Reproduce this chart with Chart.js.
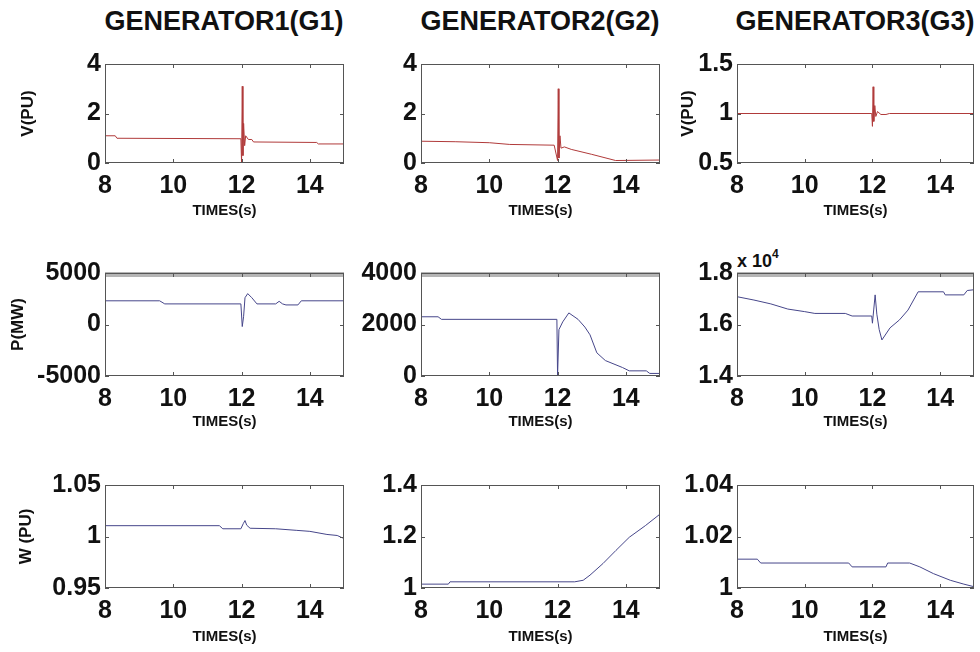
<!DOCTYPE html>
<html>
<head>
<meta charset="utf-8">
<script src="https://cdn.jsdelivr.net/npm/chart.js@4.4.0/dist/chart.umd.min.js"></script>
<style>
body { margin: 0; background: #fff; width: 980px; height: 652px; position: relative; overflow: hidden; font-family: "Liberation Sans", Arial, sans-serif; }
canvas { position: absolute; }
.title { position: absolute; top: 6px; width: 300px; text-align: center; font-weight: bold; font-size: 27px; color: #111; }
.expo { position: absolute; left: 737px; top: 249px; font-weight: bold; font-size: 18px; color: #111; }
.expo sup { font-size: 12px; position: relative; top: -2px; }
</style>
</head>
<body>
<div class="title" style="left:74px">GENERATOR1(G1)</div>
<div class="title" style="left:390px">GENERATOR2(G2)</div>
<div class="title" style="left:705px">GENERATOR3(G3)</div>
<div class="expo">x 10<sup>4</sup></div>

<canvas id="c0"></canvas><canvas id="c1"></canvas><canvas id="c2"></canvas>
<canvas id="c3"></canvas><canvas id="c4"></canvas><canvas id="c5"></canvas>
<canvas id="c6"></canvas><canvas id="c7"></canvas><canvas id="c8"></canvas>

<script>
// time axis, shared by all panels
const xTicks = [8, 10, 12, 14];
const xLabel = 'TIMES(s)';

// generator 1
const g1VoltT = [8, 8.3, 8.35, 11.98, 12.0, 12.02, 12.04, 12.06, 12.09, 12.12, 12.2, 12.3, 12.35, 14.2, 14.25, 15];
const g1Volt  = [1.1, 1.1, 1.0, 0.98, 0.0, 3.1, 0.3, 1.6, 0.7, 1.1, 0.95, 0.95, 0.85, 0.83, 0.77, 0.77];
const g1PowT  = [8, 9.6, 9.75, 11.98, 12.02, 12.06, 12.1, 12.18, 12.3, 12.45, 13.0, 13.1, 13.2, 13.3, 13.65, 13.75, 15];
const g1Pow   = [2300, 2300, 2000, 2000, -200, 800, 2600, 3000, 2600, 2000, 2000, 2250, 2000, 1900, 1900, 2300, 2300];
const g1SpdT  = [8, 11.35, 11.45, 11.98, 12.05, 12.1, 12.15, 12.25, 13.0, 13.6, 14.0, 14.5, 14.8, 15];
const g1Spd   = [1.0105, 1.0105, 1.0075, 1.0075, 1.0125, 1.0155, 1.011, 1.008, 1.0075, 1.006, 1.005, 1.002, 1.001, 0.998];

// generator 2
const g2VoltT = [8, 9.0, 10.0, 10.6, 11.9, 12.0, 12.02, 12.04, 12.07, 12.1, 12.2, 12.4, 13.0, 13.7, 15];
const g2Volt  = [0.88, 0.86, 0.82, 0.75, 0.72, 0.1, 3.0, 0.2, 1.1, 0.6, 0.65, 0.55, 0.35, 0.1, 0.12];
const g2PowT  = [8, 8.5, 8.6, 11.98, 12.0, 12.04, 12.15, 12.33, 12.6, 12.8, 12.95, 13.15, 13.4, 13.9, 14.1, 14.6, 14.7, 15];
const g2Pow   = [2300, 2300, 2200, 2200, 0, 1800, 2100, 2450, 2200, 1900, 1600, 900, 600, 330, 200, 200, 100, 100];
const g2SpdT  = [8, 8.8, 8.85, 12.5, 12.75, 12.95, 13.33, 13.71, 14.1, 14.57, 15];
const g2Spd   = [1.015, 1.015, 1.024, 1.024, 1.03, 1.05, 1.095, 1.146, 1.197, 1.242, 1.287];

// generator 3
const g3VoltT = [8, 11.98, 12.0, 12.02, 12.04, 12.07, 12.1, 12.15, 12.25, 12.4, 12.5, 15];
const g3Volt  = [1.0, 1.0, 0.87, 1.27, 0.92, 1.08, 0.97, 1.02, 0.99, 0.99, 1.0, 1.0];
const g3PowT  = [8, 8.5, 9, 9.5, 10, 10.3, 11.2, 11.4, 11.98, 12.0, 12.04, 12.08, 12.13, 12.2, 12.28, 12.52, 12.8, 13.05, 13.35, 14.1, 14.15, 14.7, 14.8, 15];
const g3Pow   = [17080, 16950, 16800, 16600, 16500, 16430, 16430, 16330, 16330, 16050, 16600, 17150, 16400, 15800, 15400, 15870, 16180, 16560, 17270, 17270, 17150, 17150, 17320, 17350];
const g3SpdT  = [8, 8.6, 8.7, 11.3, 11.4, 12.4, 12.45, 13.1, 13.4, 13.8, 14.3, 14.7, 15];
const g3Spd   = [1.0112, 1.0112, 1.0097, 1.0097, 1.0082, 1.0082, 1.0097, 1.0097, 1.0082, 1.0056, 1.003, 1.0015, 1.0005];

// y ticks per panel
const voltTicks12 = [0, 2, 4];
const voltTicks3  = [0.5, 1, 1.5];
const powTicks1   = [-5000, 0, 5000];
const powTicks2   = [0, 2000, 4000];
const powTicks3   = [14000, 16000, 18000];
const powLabels3  = ['1.4', '1.6', '1.8'];
const spdTicks1   = [0.95, 1, 1.05];
const spdTicks2   = [1, 1.2, 1.4];
const spdTicks3   = [1, 1.02, 1.04];

const cols = [
  { left: 0,   axisW: 105, width: 352, padR: 8 },
  { left: 355, axisW: 66,  width: 313, padR: 8 },
  { left: 665, axisW: 72,  width: 314, padR: 5 }
];
const rows = [
  { top: 45,  padT: 16, height: 177, axisH: 59 },
  { top: 240, padT: 33, height: 193, axisH: 57 },
  { top: 466, padT: 18, height: 182, axisH: 60 }
];

const RED = '#b03a3a';
const BLUE = '#46468a';

const panels = [
  { t: g1VoltT, v: g1Volt, ticks: voltTicks12, color: RED, ylab: 'V(PU)', ylabPad: 18 },
  { t: g2VoltT, v: g2Volt, ticks: voltTicks12, color: RED },
  { t: g3VoltT, v: g3Volt, ticks: voltTicks3, color: RED, ylab: 'V(PU)', ylabPad: 13 },
  { t: g1PowT, v: g1Pow, ticks: powTicks1, color: BLUE, ylab: 'P(MW)', ylabPad: 8, band: true },
  { t: g2PowT, v: g2Pow, ticks: powTicks2, color: BLUE, band: true },
  { t: g3PowT, v: g3Pow, ticks: powTicks3, labels: powLabels3, color: BLUE, band: true },
  { t: g1SpdT, v: g1Spd, ticks: spdTicks1, color: BLUE, ylab: 'W (PU)', ylabPad: 16 },
  { t: g2SpdT, v: g2Spd, ticks: spdTicks2, color: BLUE },
  { t: g3SpdT, v: g3Spd, ticks: spdTicks3, color: BLUE }
];

// matlab style box with inward ticks
const boxPlugin = {
  id: 'box',
  afterDatasetsDraw(chart, args, opts) {
    const { ctx, chartArea: a, scales: { x, y } } = chart;
    ctx.save();
    if (opts.band) {
      ctx.fillStyle = '#b5b5b5';
      ctx.fillRect(a.left, a.top - 1, a.width, 5);
    }
    ctx.strokeStyle = '#555';
    ctx.lineWidth = 1;
    ctx.strokeRect(a.left + 0.5, a.top + 0.5, a.width - 1, a.height - 1);
    ctx.beginPath();
    x.ticks.forEach(t => {
      const px = Math.round(x.getPixelForValue(t.value)) + 0.5;
      ctx.moveTo(px, a.bottom); ctx.lineTo(px, a.bottom - 4);
      ctx.moveTo(px, a.top); ctx.lineTo(px, a.top + 4);
    });
    y.ticks.forEach(t => {
      const py = Math.round(y.getPixelForValue(t.value)) + 0.5;
      ctx.moveTo(a.left, py); ctx.lineTo(a.left + 4, py);
      ctx.moveTo(a.right, py); ctx.lineTo(a.right - 4, py);
    });
    ctx.stroke();
    ctx.restore();
  }
};

const tickFont = { family: '"Liberation Sans Narrow", "Liberation Sans", Arial', size: 25, weight: 'bold' };
const labFont = { family: '"Liberation Sans", Arial', size: 15, weight: 'bold' };

panels.forEach((p, i) => {
  const col = cols[i % 3];
  const row = rows[Math.floor(i / 3)];
  const cv = document.getElementById('c' + i);
  cv.width = col.width;
  cv.height = row.height;
  cv.style.left = col.left + 'px';
  cv.style.top = row.top + 'px';

  new Chart(cv, {
    type: 'line',
    data: {
      datasets: [{
        data: p.t.map((t, k) => ({ x: t, y: p.v[k] })),
        borderColor: p.color,
        borderWidth: 1,
        pointRadius: 0,
        tension: 0
      }]
    },
    options: {
      responsive: false,
      animation: false,
      layout: { padding: { top: row.padT, right: col.padR, left: 0, bottom: 0 } },
      plugins: { legend: { display: false }, tooltip: { enabled: false }, box: { band: !!p.band } },
      scales: {
        x: {
          type: 'linear',
          min: 8, max: 15,
          afterBuildTicks: s => { s.ticks = xTicks.map(v => ({ value: v })); },
          afterFit: s => { s.height = row.axisH; },
          grid: { display: false, drawTicks: false },
          border: { display: false },
          ticks: { font: tickFont, color: '#111', padding: 8, maxRotation: 0 },
          title: { display: true, text: xLabel, font: labFont, color: '#111', padding: { top: 0, bottom: 2 } }
        },
        y: {
          min: p.ticks[0], max: p.ticks[p.ticks.length - 1],
          afterBuildTicks: s => { s.ticks = p.ticks.map(v => ({ value: v })); },
          afterFit: s => { s.width = col.axisW; },
          grid: { display: false, drawTicks: false },
          border: { display: false },
          ticks: {
            font: tickFont, color: '#111', padding: 4,
            callback: (v, k) => p.labels ? p.labels[k] : String(v)
          },
          title: {
            display: !!p.ylab, text: p.ylab || '',
            font: { family: '"Liberation Sans", Arial', size: 17, weight: 'bold' },
            color: '#111', padding: { top: p.ylabPad || 0, bottom: 0 }
          }
        }
      }
    },
    plugins: [boxPlugin]
  });
});
</script>
</body>
</html>
